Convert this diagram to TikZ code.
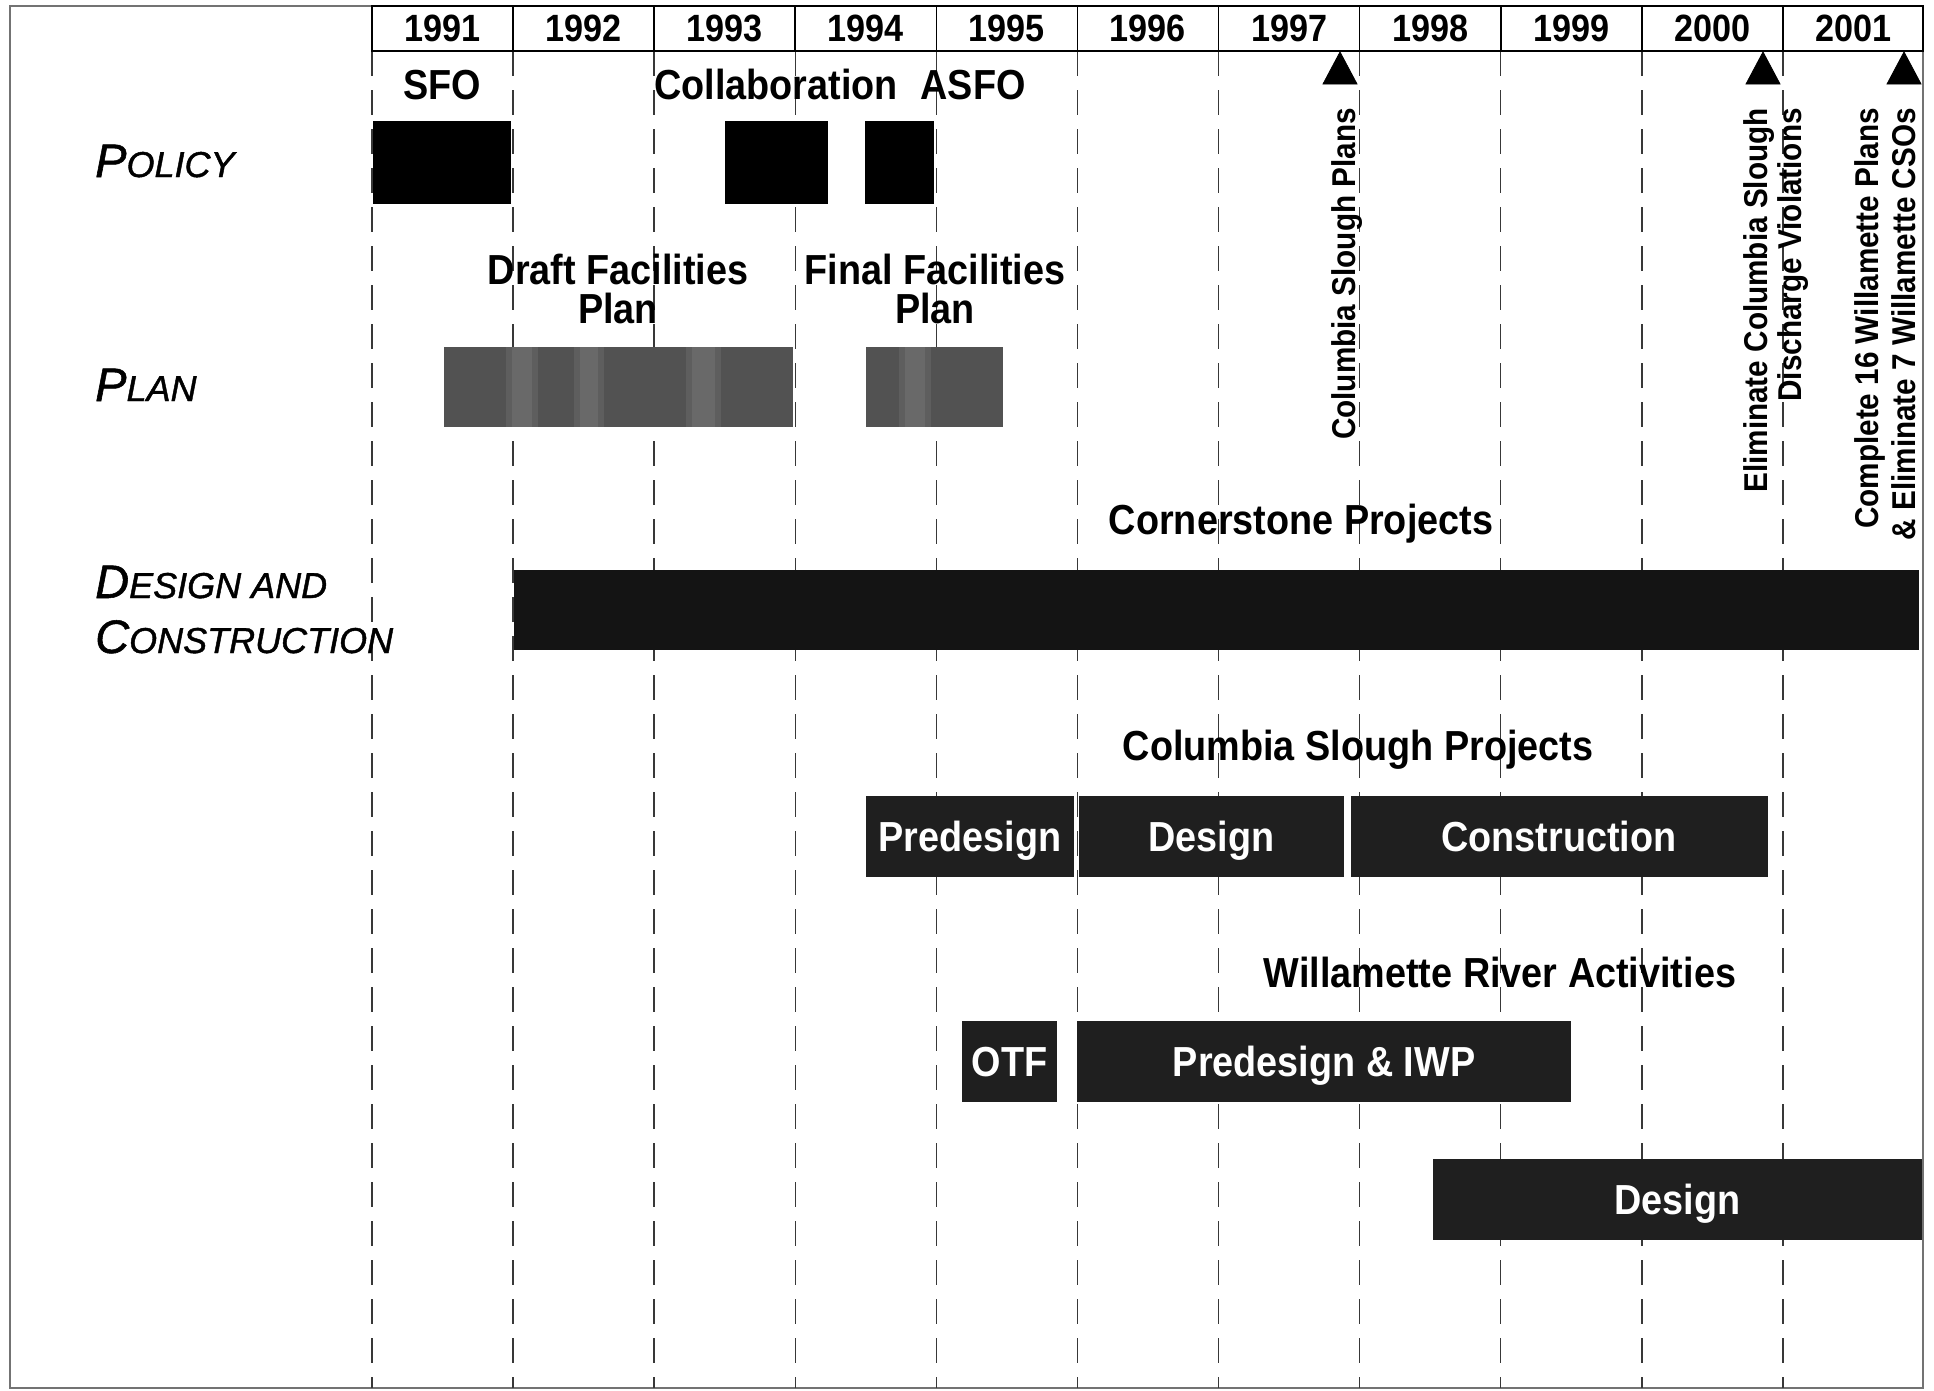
\documentclass[tikz,border=0pt]{standalone}
\usepackage{fontspec}
\setmainfont[FakeStretch=0.9]{Liberation Sans}
\newfontfamily\rowfont[FakeBold=1.2]{Liberation Sans}
\begin{document}
\begin{tikzpicture}[x=1pt,y=-1pt,
  gridln/.style={line width=1.5pt, draw=black!78, dash pattern=on 25pt off 14pt},
  hdrln/.style={line width=2.2pt, draw=black},
  yr/.style={font=\bfseries\fontsize{38}{40}\selectfont, anchor=base, inner sep=0pt},
  lbl/.style={font=\bfseries\fontsize{42}{44}\selectfont, anchor=base, inner sep=0pt},
  vlbl/.style={font=\bfseries\fontsize{33}{35}\selectfont, rotate=90, anchor=base east, inner sep=0pt},
  rowlbl/.style={font=\rowfont\itshape, anchor=base west, inner sep=0pt},
  bar/.style={fill=#1, draw=none, anchor=north west, inner sep=0pt, outer sep=0pt,
    text=white, font=\bfseries\fontsize{42}{44}\selectfont, text height=30pt, text depth=0pt},
  streak/.style={fill=white, opacity=0.07},
  milestone/.style={fill=black, draw=black, line width=0.8pt, line join=miter}
]
\newcommand{\bigc}[1]{{\fontsize{47}{50}\selectfont #1}}
\newcommand{\smc}[1]{{\fontsize{36}{40}\selectfont #1}}
\useasboundingbox (0,0) rectangle (1934,1390);
% outer frame
\draw[line width=1.2pt, draw=black!55] (10,6) rectangle (1923,1388);
% dashed year grid
\foreach \i in {0,...,10} {
  \draw[gridln] ({372+141.09*\i},51) -- ({372+141.09*\i},1388);
}
% header
\draw[hdrln] (372,6) rectangle (1923,51);
\foreach \i in {1,...,10} {
  \draw[hdrln, line width=1.6pt] ({372+141.09*\i},6) -- ({372+141.09*\i},51);
}
\foreach \y [count=\i from 0] in {1991,...,2001} {
  \node[yr] (y\y) at ({372+141.09*\i+70.5},41) {\y};
}
% policy row
\node[lbl] (sfo) at (442,99) {SFO};
\node[lbl] (collab) at (776,99) {Collaboration};
\node[lbl] (asfo) at (973,99) {ASFO};
\node[rowlbl] (policy) at (95,177) {\bigc{P}\smc{OLICY}};
\node[bar=black, minimum width=138pt, minimum height=82.5pt] (pol1) at (372.5,121) {};
\node[bar=black, minimum width=102.6pt, minimum height=82.5pt] (pol2) at (725,121) {};
\node[bar=black, minimum width=69pt, minimum height=82.5pt] (pol3) at (864.6,121) {};
% milestones
\fill[milestone] (1323,84) -- (1357,84) -- (1340,52) -- cycle;
\fill[milestone] (1746,84) -- (1780,84) -- (1763,52) -- cycle;
\fill[milestone] (1887,84) -- (1921,84) -- (1904,52) -- cycle;
\node[vlbl] (m1) at (1355,108) {Columbia Slough Plans};
\node[vlbl] (m2a) at (1767,108) {Eliminate Columbia Slough};
\node[vlbl] (m2b) at (1801,108) {Discharge Violations};
\node[vlbl] (m3a) at (1878,108) {Complete 16 Willamette Plans};
\node[vlbl] (m3b) at (1915,108) {\& Eliminate 7 Willamette CSOs};
% plan row
\node[lbl] (draft1) at (618,284) {Draft Facilities};
\node[lbl] (draft2) at (618,323) {Plan};
\node[lbl] (final1) at (935,284) {Final Facilities};
\node[lbl] (final2) at (935,323) {Plan};
\node[rowlbl] (plan) at (95,401) {\bigc{P}\smc{LAN}};
\node[bar=black!68, minimum width=349pt, minimum height=80pt] (plan1) at (444,346.6) {};
\node[bar=black!68, minimum width=137pt, minimum height=80pt] (plan2) at (866,346.6) {};
\foreach \a/\b in {506/538, 512/532, 574/604, 580/598, 686/721, 692/715, 899/931, 905/925} {
  \fill[streak] (\a,346.6) rectangle (\b,426.6);
}
% design and construction
\node[lbl] (corner) at (1301,534) {Cornerstone Projects};
\node[bar=black!92, minimum width=1405pt, minimum height=80pt] (dc) at (514,570) {};
\node[rowlbl] (dc1) at (95,598) {\bigc{D}\smc{ESIGN AND}};
\node[rowlbl] (dc2) at (95,653) {\bigc{C}\smc{ONSTRUCTION}};
% Columbia Slough projects
\node[lbl] (csp) at (1358,760) {Columbia Slough Projects};
\node[bar=black!88, minimum width=208pt, minimum height=81.5pt] (cs1) at (866,795.5) {Predesign};
\node[bar=black!88, minimum width=265pt, minimum height=81.5pt] (cs2) at (1079,795.5) {Design};
\node[bar=black!88, minimum width=417pt, minimum height=81.5pt] (cs3) at (1350.5,795.5) {Construction};
% Willamette
\node[lbl] (wra) at (1500,987) {Willamette River Activities};
\node[bar=black!88, minimum width=95pt, minimum height=80.5pt] (otf) at (962,1021) {OTF};
\node[bar=black!88, minimum width=494pt, minimum height=80.5pt] (iwp) at (1077,1021) {Predesign \& IWP};
\node[bar=black!88, minimum width=489pt, minimum height=80.5pt] (wdes) at (1433,1159) {Design};
\end{tikzpicture}
\end{document}
